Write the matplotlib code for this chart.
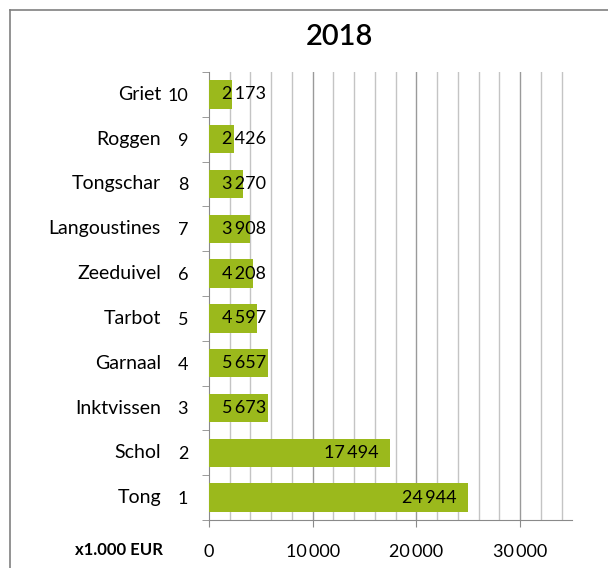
import matplotlib
matplotlib.use("Agg")
import matplotlib.pyplot as plt
import matplotlib.transforms as mtransforms
from matplotlib.lines import Line2D

species = ["Tong", "Schol", "Inktvissen", "Garnaal", "Tarbot",
           "Zeeduivel", "Langoustines", "Tongschar", "Roggen", "Griet"]
ranks = ["1", "2", "3", "4", "5", "6", "7", "8", "9", "10"]
values = [24944, 17494, 5673, 5657, 4597, 4208, 3908, 3270, 2426, 2173]
value_labels = ["24\u2009944", "17\u2009494", "5\u2009673", "5\u2009657", "4\u2009597",
                "4\u2009208", "3\u2009908", "3\u2009270", "2\u2009426", "2\u2009173"]
xticks = [0, 10000, 20000, 30000]
xtick_labels = ["0", "10\u2009000", "20\u2009000", "30\u2009000"]

plt.rcParams["font.family"] = ["Lato", "DejaVu Sans"]

fig = plt.figure(figsize=(6.08, 5.68), dpi=100)
ax = fig.add_axes([209 / 608, 1 - 520 / 568, 363 / 608, 448 / 568])

green = "#9bb91c"
ypos = list(range(len(species)))
ax.barh(ypos, values, height=0.63, color=green, zorder=3)

ax.set_xlim(0, 35000)
ax.set_ylim(-0.5, 9.5)

# vertical gridlines every 2000
for gx in range(2000, 35000, 2000):
    c = "#9a9a9a" if gx % 10000 == 0 else "#c4c4c4"
    ax.axvline(gx, color=c, linewidth=1.0, zorder=1)

for s in ["top", "right"]:
    ax.spines[s].set_visible(False)
ax.spines["left"].set_color("#8a8a8a")
ax.spines["bottom"].set_color("#8a8a8a")

ax.set_xticks(xticks)
ax.set_xticklabels(xtick_labels, fontsize=13)
ax.tick_params(axis="x", length=5, color="#8a8a8a", pad=12)

ax.set_yticks(ypos)
ax.set_yticklabels(ranks, fontsize=13)
ax.tick_params(axis="y", length=0, pad=15)
ax.set_yticks([y - 0.5 for y in range(len(species) + 1)], minor=True)
ax.tick_params(axis="y", which="minor", length=5, color="#8a8a8a")

trans = mtransforms.blended_transform_factory(ax.transAxes, ax.transData)
for y, name in zip(ypos, species):
    ax.text(-48 / 363, y, name, transform=trans, ha="right", va="center",
            fontsize=14)

for y, v, lab in zip(ypos, values, value_labels):
    if v > 8000:
        ax.text(v - 1100, y, lab, ha="right", va="center", fontsize=13, zorder=4)
    else:
        ax.text(1250, y, lab, ha="left", va="center", fontsize=13, zorder=4)

ax.text(-46 / 363, -0.05, "x1.000 EUR", transform=ax.transAxes, ha="right",
        va="top", fontsize=12, fontweight="bold")
ax.text(0.36, 1.05, "2018", transform=ax.transAxes, ha="center", va="bottom",
        fontsize=21, fontweight="semibold")

# outer frame
fig.add_artist(Line2D([10 / 608, 10 / 608], [0, 1 - 10 / 568],
                      transform=fig.transFigure, color="#808080", linewidth=1.2))
fig.add_artist(Line2D([10 / 608, 1], [1 - 10 / 568, 1 - 10 / 568],
                      transform=fig.transFigure, color="#808080", linewidth=1.2))

fig.savefig("out.png", dpi=100, facecolor="white")
